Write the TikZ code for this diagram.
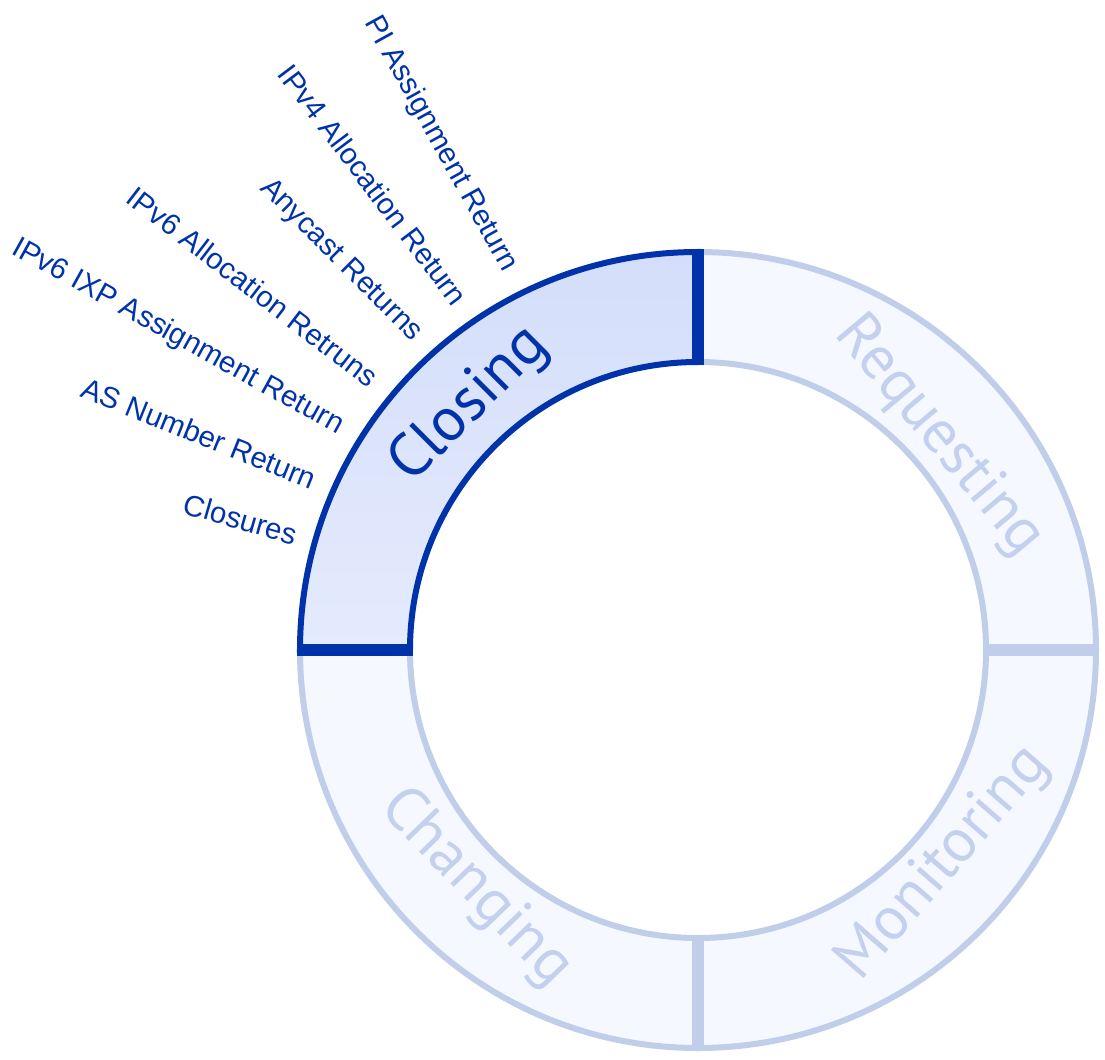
\documentclass[tikz,border=0pt]{standalone}
\usepackage{fontspec}
\setmainfont{Liberation Sans}
\newfontfamily\ringfont{PT Sans}
\usepackage{tikz}

\definecolor{darkblue}{RGB}{0,51,170}
\definecolor{paleline}{RGB}{192,206,234}
\definecolor{paletext}{RGB}{196,209,238}
\definecolor{palefill}{RGB}{245,248,254}
\definecolor{closetop}{RGB}{212,222,250}
\definecolor{closebot}{RGB}{229,235,253}

\begin{document}
\begin{tikzpicture}[x=0.02cm,y=0.02cm]
\tikzset{sector/.style = {draw=paleline,fill=palefill,line width=0.12cm}}
\tikzset{divider/.style = {draw=paleline,line width=0.23cm}}
\tikzset{ringlabel/.style = {font=\ringfont\fontsize{35}{40}\selectfont,text=paletext}}
\tikzset{itemlabel/.style = {font=\fontsize{16.8}{18}\selectfont,text=darkblue,anchor=east,inner sep=0pt}}
\useasboundingbox (-698,-409) rectangle (407,650);
% ring quadrants
\draw[sector] (0:398) arc[start angle=0,end angle=90,radius=398] -- (90:288) arc[start angle=90,end angle=0,radius=288] -- cycle;
\draw[sector] (270:398) arc[start angle=270,end angle=360,radius=398] -- (0:288) arc[start angle=360,end angle=270,radius=288] -- cycle;
\draw[sector] (180:398) arc[start angle=180,end angle=270,radius=398] -- (270:288) arc[start angle=270,end angle=180,radius=288] -- cycle;
\draw[divider] (0:285) -- (0:401);
\draw[divider] (270:285) -- (270:401);
\draw[sector,draw=darkblue,top color=closetop,bottom color=closebot] (90:398) arc[start angle=90,end angle=180,radius=398] -- (180:288) arc[start angle=180,end angle=90,radius=288] -- cycle;
\draw[divider,draw=darkblue] (90:285) -- (90:401);
\draw[divider,draw=darkblue] (180:285) -- (180:401);
% ring labels
\node[ringlabel,text=darkblue,rotate=45] (closing) at (133:335) {Closing};
\node[ringlabel,rotate=-50] (requesting) at (41.5:322) {Requesting};
\node[ringlabel,rotate=49] (monitoring) at (-41:326) {Monitoring};
\node[ringlabel,rotate=-46] (changing) at (-133:326) {Changing};
% closing items
\node[itemlabel,rotate=-61] (pi) at (116.3:424) {PI Assignment Return};
\node[itemlabel,rotate=-53] (ipvfour) at (124.2:421) {IPv4 Allocation Return};
\node[itemlabel,rotate=-45] (anycast) at (131.9:420) {Anycast Returns};
\node[itemlabel,rotate=-37.5] (ipvsix) at (140.2:421) {IPv6 Allocation Retruns};
\node[itemlabel,rotate=-29] (ixp) at (148.1:420) {IPv6 IXP Assignment Return};
\node[itemlabel,rotate=-22] (asn) at (156.1:419) {AS Number Return};
\node[itemlabel,rotate=-16] (closures) at (164:417) {Closures};
\end{tikzpicture}
\end{document}
